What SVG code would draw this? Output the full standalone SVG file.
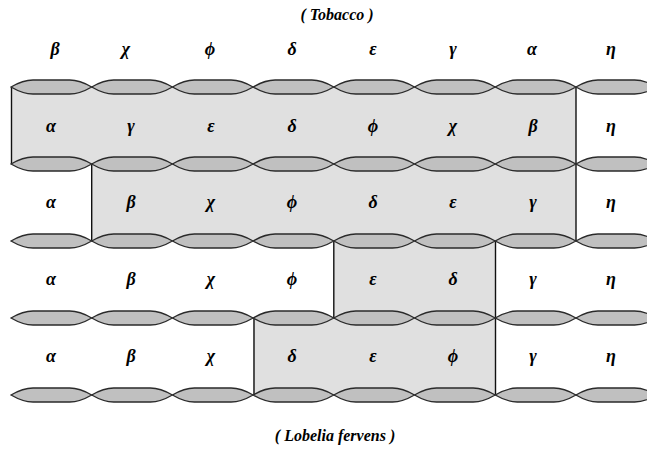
<svg xmlns="http://www.w3.org/2000/svg" xmlns:xlink="http://www.w3.org/1999/xlink" width="647" height="449" viewBox="0 0 647 449">
<style>
.box{fill:#e0e0e0;stroke:none}
.vl{stroke:#111;stroke-width:1.4}
.seg{fill:#c0c0c0;stroke:#2a2a2a;stroke-width:1.3}
</style>
<defs>
<path id="seg" class="seg" d="M0,0 Q12,-7 22,-7 L58.7,-7 Q68.7,-7 80.7,0 Q68.7,7 58.7,7 L22,7 Q12,7 0,0Z"/>
<g id="chain">
<use xlink:href="#seg" x="11"/>
<use xlink:href="#seg" x="91.7"/>
<use xlink:href="#seg" x="172.4"/>
<use xlink:href="#seg" x="253.1"/>
<use xlink:href="#seg" x="333.8"/>
<use xlink:href="#seg" x="414.5"/>
<use xlink:href="#seg" x="495.2"/>
<use xlink:href="#seg" x="575.9"/>
</g>
</defs>
<rect width="647" height="449" fill="#fff"/>
<g id="boxes">
<rect class="box" x="11" y="87" width="565" height="77"/>
<rect class="box" x="91.7" y="164" width="484.2" height="77"/>
<rect class="box" x="333.8" y="241" width="161.4" height="77"/>
<rect class="box" x="253.1" y="318" width="242.1" height="77"/>
</g>
<g id="connectors">
<line class="vl" x1="11.5" y1="87" x2="11.5" y2="164"/>
<line class="vl" x1="576" y1="87" x2="576" y2="241"/>
<line class="vl" x1="91.7" y1="164" x2="91.7" y2="241"/>
<line class="vl" x1="333.8" y1="241" x2="333.8" y2="318"/>
<line class="vl" x1="495.5" y1="241" x2="495.5" y2="395"/>
<line class="vl" x1="254" y1="318" x2="254" y2="395"/>
</g>
<g id="chains">
<use xlink:href="#chain" y="87"/>
<use xlink:href="#chain" y="164"/>
<use xlink:href="#chain" y="241"/>
<use xlink:href="#chain" y="318"/>
<use xlink:href="#chain" y="395"/>
</g>
<g font-family="Liberation Serif, serif" font-weight="bold" font-style="italic" fill="#000" text-anchor="middle">
<g id="title-top" font-size="16"><text x="337" y="20">( Tobacco )</text></g>
<g font-size="18">
<g id="row0">
<text x="55" y="55">β</text><text x="126" y="55">χ</text><text x="210" y="55">ϕ</text><text x="292" y="55">δ</text><text x="373" y="55">ε</text><text x="453" y="55">γ</text><text x="532" y="55">α</text><text x="611" y="55">η</text>
</g>
<g id="row1">
<text x="51" y="132">α</text><text x="131" y="132">γ</text><text x="211" y="132">ε</text><text x="292" y="132">δ</text><text x="373" y="132">ϕ</text><text x="453" y="132">χ</text><text x="533" y="132">β</text><text x="611" y="132">η</text>
</g>
<g id="row2">
<text x="51" y="208">α</text><text x="131" y="208">β</text><text x="211" y="208">χ</text><text x="292" y="208">ϕ</text><text x="373" y="208">δ</text><text x="453" y="208">ε</text><text x="533" y="208">γ</text><text x="611" y="208">η</text>
</g>
<g id="row3">
<text x="51" y="285">α</text><text x="131" y="285">β</text><text x="211" y="285">χ</text><text x="292" y="285">ϕ</text><text x="373" y="285">ε</text><text x="453" y="285">δ</text><text x="533" y="285">γ</text><text x="611" y="285">η</text>
</g>
<g id="row4">
<text x="51" y="362">α</text><text x="131" y="362">β</text><text x="211" y="362">χ</text><text x="292" y="362">δ</text><text x="373" y="362">ε</text><text x="453" y="362">ϕ</text><text x="533" y="362">γ</text><text x="611" y="362">η</text>
</g>
</g>
<g id="title-bottom" font-size="16"><text x="335" y="441">( Lobelia fervens )</text></g>
</g>
</svg>
